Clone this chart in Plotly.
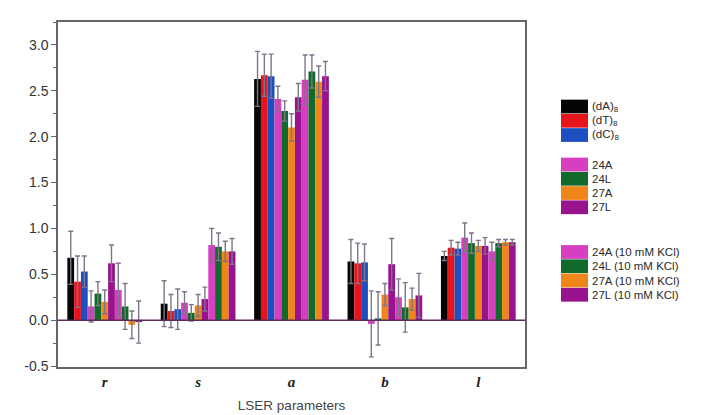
import plotly.graph_objects as go

categories = ["<b><i>r</i></b>", "<b><i>s</i></b>", "<b><i>a</i></b>", "<b><i>b</i></b>", "<b><i>l</i></b>"]

series_names = [
    "(dA)<sub>8</sub>", "(dT)<sub>8</sub>", "(dC)<sub>8</sub>",
    "24A", "24L", "27A", "27L",
    "24A (10 mM KCl)", "24L (10 mM KCl)", "27A (10 mM KCl)", "27L (10 mM KCl)",
]

dA = [0.68, 0.18, 2.63, 0.64, 0.70]
dT = [0.42, 0.10, 2.67, 0.62, 0.79]
dC = [0.53, 0.12, 2.66, 0.63, 0.78]
s24A = [0.15, 0.19, 2.41, -0.04, 0.90]
s24L = [0.29, 0.08, 2.28, 0.02, 0.84]
s27A = [0.20, 0.16, 2.10, 0.28, 0.81]
s27L = [0.62, 0.23, 2.43, 0.61, 0.81]
k24A = [0.33, 0.82, 2.62, 0.25, 0.75]
k24L = [0.15, 0.80, 2.71, 0.14, 0.84]
k27A = [-0.05, 0.75, 2.60, 0.23, 0.85]
k27L = [-0.02, 0.75, 2.66, 0.27, 0.85]

e_dA = [0.29, 0.25, 0.30, 0.24, 0.05]
e_dT = [0.28, 0.18, 0.23, 0.22, 0.08]
e_dC = [0.17, 0.22, 0.24, 0.20, 0.07]
e_24A = [0.17, 0.12, 0.14, 0.36, 0.16]
e_24L = [0.13, 0.09, 0.11, 0.29, 0.11]
e_27A = [0.13, 0.12, 0.15, 0.12, 0.06]
e_27L = [0.20, 0.13, 0.15, 0.28, 0.09]
e_k24A = [0.29, 0.18, 0.27, 0.20, 0.10]
e_k24L = [0.25, 0.15, 0.18, 0.27, 0.04]
e_k27A = [0.15, 0.11, 0.17, 0.12, 0.03]
e_k27L = [0.23, 0.14, 0.16, 0.24, 0.03]

values = [dA, dT, dC, s24A, s24L, s27A, s27L, k24A, k24L, k27A, k27L]
errors = [e_dA, e_dT, e_dC, e_24A, e_24L, e_27A, e_27L, e_k24A, e_k24L, e_k27A, e_k27L]

colors = ["#050505", "#E8141C", "#1D4FC0",
          "#D83FC0", "#106A2C", "#F0861A", "#99128E",
          "#D83FC0", "#106A2C", "#F0861A", "#99128E"]

fig = go.Figure()
for name, v, e, c in zip(series_names, values, errors, colors):
    fig.add_trace(go.Bar(
        x=categories, y=v, name=name, marker=dict(color=c, line=dict(width=0)),
        error_y=dict(type="data", array=e, visible=True, color="#7d7688",
                     thickness=1.4, width=2.5),
        showlegend=False,
    ))

# plot area in pixels: x 50..517, y 12..363
W, H = 703, 415
L, R, T, B = 50, 517, 12, 363


def px(xp):
    return (xp - L) / (R - L)


def py(yp):
    return (B - yp) / (B - T)


legend_y = [98, 112.5, 127, 157, 171.5, 186, 200.5, 246, 260.5, 275, 289.5]
shapes = []
annotations = []
for name, c, yc in zip(series_names, colors, legend_y):
    shapes.append(dict(type="rect", xref="paper", yref="paper",
                       x0=px(553), x1=px(580), y0=py(yc + 7), y1=py(yc - 7),
                       fillcolor=c, line=dict(width=0)))
    annotations.append(dict(xref="paper", yref="paper", x=px(582), y=py(yc),
                            text=name, showarrow=False, xanchor="left", yanchor="middle",
                            font=dict(family="Liberation Sans, Arial", size=11.5, color="#2a2a2a")))

# zero baseline
shapes.append(dict(type="line", xref="paper", yref="y", x0=0, x1=1, y0=0, y1=0,
                   line=dict(color="#5a2a60", width=1.5)))

fig.update_layout(
    width=W, height=H,
    margin=dict(l=L, r=W - R, t=T, b=H - B),
    paper_bgcolor="white", plot_bgcolor="white",
    barmode="group", bargap=0.2, bargroupgap=0,
    shapes=shapes, annotations=annotations,
    font=dict(family="Liberation Sans, Arial", color="#333"),
    xaxis=dict(
        showline=True, linecolor="#666", linewidth=1.5, mirror=True,
        ticks="", tickfont=dict(family="Liberation Serif, Times New Roman", size=15, color="#222"),
        title=dict(text="LSER parameters", font=dict(size=13.5, color="#444"), standoff=12),
        showgrid=False,
    ),
    yaxis=dict(
        range=[-0.51, 3.25], tickvals=[-0.5, 0, 0.5, 1.0, 1.5, 2.0, 2.5, 3.0],
        ticktext=["-0.5", "0.0", "0.5", "1.0", "1.5", "2.0", "2.5", "3.0"],
        showline=True, linecolor="#666", linewidth=1.5, mirror=True,
        ticks="outside", ticklen=5, tickcolor="#666", tickwidth=1.2,
        minor=dict(ticks="outside", ticklen=3, tickcolor="#666", dtick=0.25, showgrid=False),
        tickfont=dict(size=14, color="#333"),
        showgrid=False, zeroline=False,
    ),
)

fig.write_html("out.html")
